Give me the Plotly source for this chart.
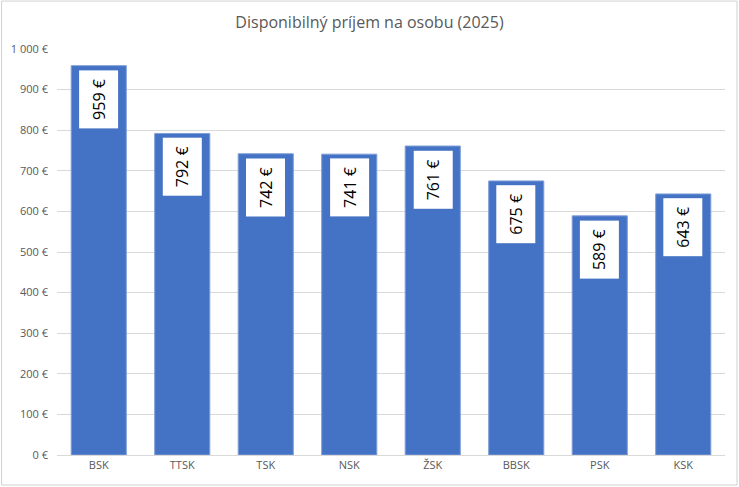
import plotly.graph_objects as go

# regions and disposable income per person
regions = ["BSK", "TTSK", "TSK", "NSK", "ŽSK", "BBSK", "PSK", "KSK"]
income = [959, 792, 742, 741, 761, 675, 589, 643]

tick_vals = [0, 100, 200, 300, 400, 500, 600, 700, 800, 900, 1000]
tick_text = ["0 €", "100 €", "200 €", "300 €", "400 €", "500 €",
             "600 €", "700 €", "800 €", "900 €", "1 000 €"]

FONT = "Open Sans"
GREY = "#595959"

fig = go.Figure()
fig.add_trace(
    go.Bar(
        x=regions,
        y=income,
        marker_color="#4472C4",
        marker_line=dict(color="#7f9fd8", width=1),
        hoverinfo="x+y",
    )
)

# value labels: rotated, white box just under the bar top
for reg, val in zip(regions, income):
    fig.add_annotation(
        x=reg,
        y=val,
        text=f"{val} €",
        textangle=-90,
        showarrow=False,
        yanchor="top",
        yshift=-4,
        bgcolor="white",
        borderpad=8,
        font=dict(family=FONT, size=16, color="#000000"),
    )

# thin frame around the whole chart
fig.add_shape(
    type="rect",
    xref="paper", yref="paper",
    x0=-0.083, x1=1.018, y0=-0.074, y1=1.118,
    line=dict(color="#d0d0d0", width=1),
    fillcolor="rgba(0,0,0,0)",
    layer="below",
)

fig.update_layout(
    title=dict(
        text="Disponibilný príjem na osobu (2025)",
        x=0.5, xanchor="center", y=0.955, yanchor="middle",
        font=dict(family=FONT, size=16, color=GREY),
    ),
    width=739,
    height=487,
    margin=dict(l=57, r=14, t=49, b=32),
    paper_bgcolor="white",
    plot_bgcolor="white",
    bargap=0.34,
    showlegend=False,
    font=dict(family=FONT, size=11, color=GREY),
    xaxis=dict(
        showgrid=False,
        showline=True,
        linecolor="#d9d9d9",
        linewidth=1,
        ticks="",
        tickfont=dict(size=11, color=GREY),
    ),
    yaxis=dict(
        range=[0, 1000],
        tickvals=tick_vals,
        ticktext=tick_text,
        showgrid=True,
        gridcolor="#d9d9d9",
        gridwidth=1,
        zeroline=False,
        showline=False,
        ticks="",
        ticklabelstandoff=8,
        tickfont=dict(size=11, color=GREY),
    ),
)

# drop the default page margin so the chart sits at the window corner
fig.write_html(
    "out.html",
    config={"displayModeBar": False},
    post_script="document.body.style.margin='0';",
)
